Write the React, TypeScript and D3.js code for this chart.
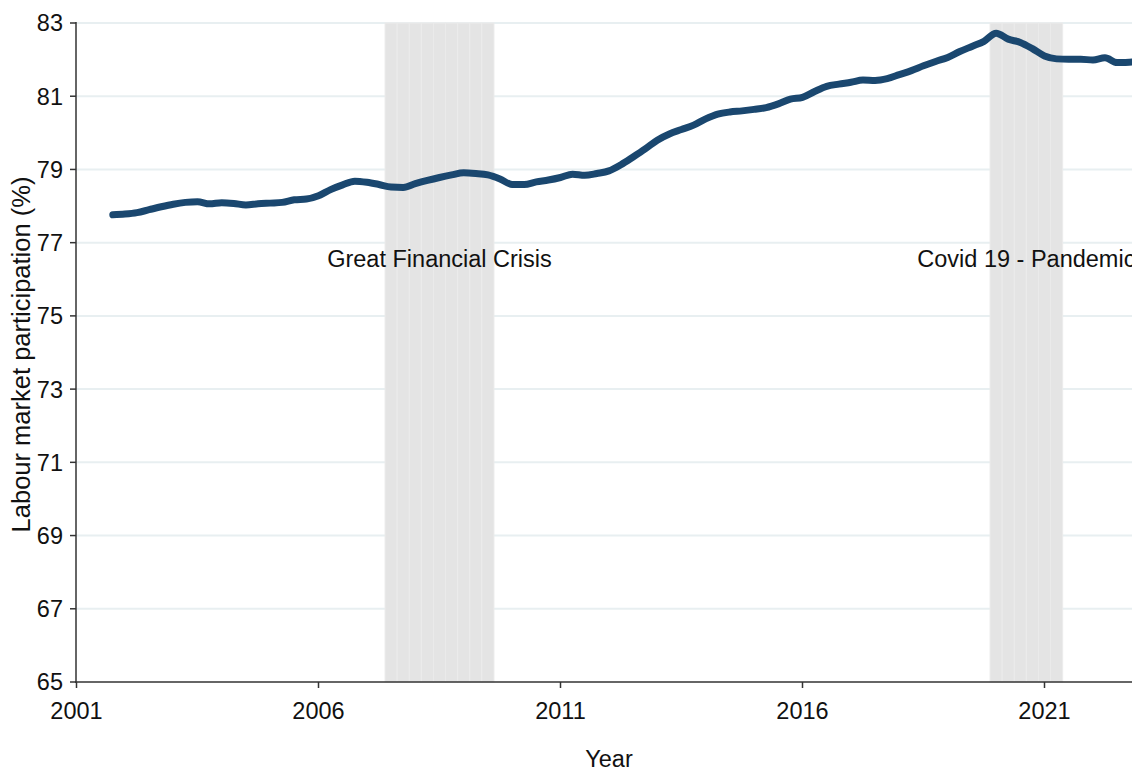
import React from "react";
import * as d3 from "d3";

// Quarterly observations (decimal year of quarter) and labour market participation (%)
const startQuarter = 2001.75;
const participation: number[] = [
  77.76, 77.78, 77.82, 77.9, 77.98, 78.05, 78.1, 78.12, 78.06, 78.09, 78.07, 78.03,
  78.06, 78.08, 78.1, 78.17, 78.19, 78.28, 78.45, 78.58, 78.68, 78.65, 78.59, 78.52,
  78.51, 78.61, 78.7, 78.78, 78.85, 78.91, 78.89, 78.85, 78.74, 78.59, 78.59, 78.66,
  78.71, 78.78, 78.87, 78.84, 78.89, 78.96, 79.13, 79.34, 79.56, 79.8, 79.97, 80.09,
  80.21, 80.38, 80.51, 80.57, 80.6, 80.64, 80.69, 80.79, 80.92, 80.97, 81.13, 81.27,
  81.33, 81.38, 81.44, 81.43, 81.48, 81.59, 81.7, 81.83, 81.95, 82.06, 82.22, 82.36,
  82.5, 82.72, 82.56, 82.47, 82.3, 82.1, 82.02, 82.01, 82.01, 81.99, 82.05, 81.92,
  81.93, 81.95,
];

const gfcQuarters: number[] = [2007.5, 2007.75, 2008.0, 2008.25, 2008.5, 2008.75, 2009.0, 2009.25, 2009.5];
const covidQuarters: number[] = [2020.0, 2020.25, 2020.5, 2020.75, 2021.0, 2021.25];

const yTicks: number[] = [65, 67, 69, 71, 73, 75, 77, 79, 81, 83];
const xTicks: number[] = [2001, 2006, 2011, 2016, 2021];

const crisisLabels = [
  { text: "Great Financial Crisis", quarters: gfcQuarters },
  { text: "Covid 19 - Pandemic", quarters: covidQuarters },
];

export default function App() {
  const W = 1132;
  const H = 771;
  const left = 76;
  const top = 23;
  const bottom = 682;
  const x = d3.scaleLinear().domain([2001, 2023]).range([left + 0.5, left + 0.5 + 22 * 48.4]);
  const y = d3.scaleLinear().domain([65, 83]).range([bottom, top]);
  const qw = x(2001.25) - x(2001);

  const data = participation.map((v, i) => ({ t: startQuarter + i * 0.25, v }));
  const line = d3
    .line<{ t: number; v: number }>()
    .x((d) => x(d.t))
    .y((d) => y(d.v))
    .curve(d3.curveMonotoneX);

  const font = "Arial, 'Liberation Sans', sans-serif";
  const fs = 23.5;

  return (
    <svg
      width={W}
      height={H}
      style={{ position: "absolute", left: 0, top: 0, background: "#fff" }}
      fontFamily={font}
    >
      {/* gridlines */}
      {yTicks.slice(1).map((t) => (
        <line key={"g" + t} x1={left} x2={W} y1={y(t)} y2={y(t)} stroke="#e8eff1" strokeWidth={2} />
      ))}
      {/* shaded crisis periods */}
      {crisisLabels.map((c) =>
        c.quarters.map((q) => (
          <rect
            key={c.text + q}
            x={x(q) - qw / 2}
            width={qw}
            y={y(83)}
            height={y(65) - y(83)}
            fill="#e4e4e4"
            stroke="#ebebeb"
            strokeWidth={1}
          />
        ))
      )}
      {crisisLabels.map((c) => {
        const mid = (c.quarters[0] + c.quarters[c.quarters.length - 1]) / 2;
        return (
          <text key={"t" + c.text} x={x(mid)} y={y(76.34)} textAnchor="middle" fontSize={fs} fill="#111">
            {c.text}
          </text>
        );
      })}
      {/* line */}
      <path d={line(data) || ""} fill="none" stroke="#1a476f" strokeWidth={7} strokeLinejoin="round" strokeLinecap="round" />
      {/* axes */}
      <line x1={left} x2={left} y1={top - 1} y2={bottom + 1} stroke="#333" strokeWidth={1.5} />
      <line x1={left - 1} x2={W} y1={bottom} y2={bottom} stroke="#333" strokeWidth={1.5} />
      {yTicks.map((t) => (
        <g key={"y" + t}>
          <line x1={left - 6} x2={left} y1={y(t)} y2={y(t)} stroke="#333" strokeWidth={1.5} />
          <text x={left - 13} y={y(t)} dy="0.36em" textAnchor="end" fontSize={fs} fill="#111">
            {t}
          </text>
        </g>
      ))}
      {xTicks.map((t) => (
        <g key={"x" + t}>
          <line x1={x(t)} x2={x(t)} y1={bottom} y2={bottom + 6} stroke="#333" strokeWidth={1.5} />
          <text x={x(t)} y={bottom + 37} textAnchor="middle" fontSize={fs} fill="#111">
            {t}
          </text>
        </g>
      ))}
      <text x={609} y={767} textAnchor="middle" fontSize={fs} fill="#111">
        Year
      </text>
      <text
        transform={`translate(30, ${(top + bottom) / 2 + 2}) rotate(-90)`}
        textAnchor="middle"
        fontSize={25.5}
        fill="#111"
      >
        Labour market participation (%)
      </text>
    </svg>
  );
}
